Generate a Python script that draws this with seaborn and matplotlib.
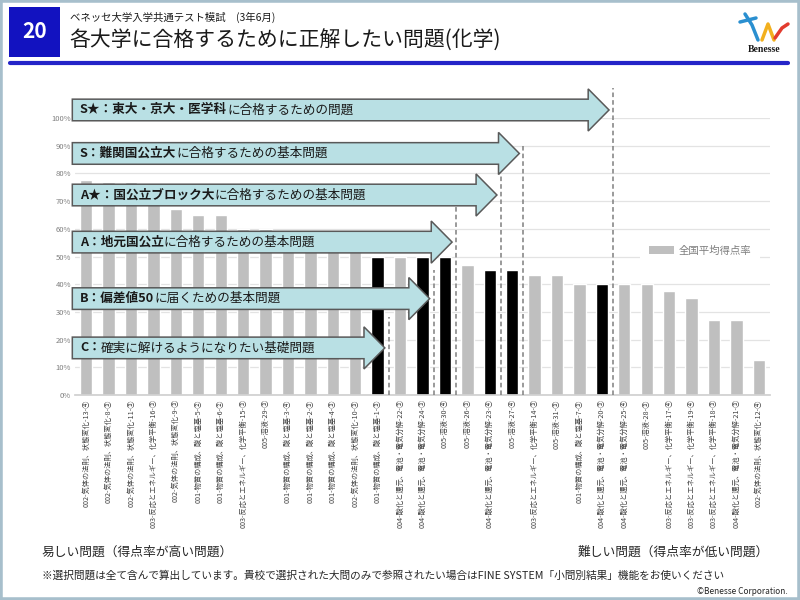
import numpy as np
import pandas as pd
import matplotlib
matplotlib.use('Agg')
import matplotlib.pyplot as plt
import seaborn as sns
from matplotlib.patches import Polygon, Rectangle, Patch
from matplotlib.lines import Line2D

# ----------------------------- Datos -----------------------------
etiquetas = ['002-気体の法則、状態変化-13-④', '002-気体の法則、状態変化-8-③', '002-気体の法則、状態変化-11-③',
             '003-反応とエネルギー、化学平衡-16-③', '002-気体の法則、状態変化-9-③', '001-物質の構成、酸と塩基-5-②',
             '001-物質の構成、酸と塩基-6-②', '003-反応とエネルギー、化学平衡-15-③', '005-溶液-29-③',
             '001-物質の構成、酸と塩基-3-④', '001-物質の構成、酸と塩基-2-③', '001-物質の構成、酸と塩基-4-③',
             '002-気体の法則、状態変化-10-③', '001-物質の構成、酸と塩基-1-③', '004-酸化と還元、電池・電気分解-22-③',
             '004-酸化と還元、電池・電気分解-24-③', '005-溶液-30-④', '005-溶液-26-③',
             '004-酸化と還元、電池・電気分解-23-④', '005-溶液-27-④', '003-反応とエネルギー、化学平衡-14-③',
             '005-溶液-31-③', '001-物質の構成、酸と塩基-7-③', '004-酸化と還元、電池・電気分解-20-③',
             '004-酸化と還元、電池・電気分解-25-④', '005-溶液-28-③', '003-反応とエネルギー、化学平衡-17-④',
             '003-反応とエネルギー、化学平衡-19-④', '003-反応とエネルギー、化学平衡-18-③',
             '004-酸化と還元、電池・電気分解-21-③', '002-気体の法則、状態変化-12-④']
tasa = [77.5, 77, 77, 70, 67, 65, 65, 60, 60, 58, 57, 55, 53, 50, 50, 50, 50, 47, 45, 45,
        43.5, 43.5, 40, 40, 40, 40, 37.5, 35, 27, 27, 12.5]

# Niveles: parte en negrita, resto del texto, último problema de cada nivel
nivel_negrita = ['S★：東大・京大・医学科', 'S：難関国公立大', 'A★：国公立ブロック大',
                 'A：地元国公立', 'B：偏差値50', 'C：']
nivel_resto = ['に合格するための問題', 'に合格するための基本問題', 'に合格するための基本問題',
               'に合格するための基本問題', 'に届くための基本問題', '確実に解けるようになりたい基礎問題']
nivel_corte = [23, 19, 18, 16, 15, 13]

df = pd.DataFrame({'problema': etiquetas, 'tasa': tasa})
colores = ['#000000' if i in nivel_corte else '#bfbfbf' for i in range(len(df))]

# ----------------------------- Gráfica -----------------------------
sns.set_theme(style='white')
plt.rcParams['font.family'] = ['Noto Sans CJK JP', 'DejaVu Sans']

fig = plt.figure(figsize=(8, 6), dpi=100)
ax = fig.add_axes([75 / 800, 205 / 600, 695 / 800, 277 / 600])

sns.barplot(data=df, x='problema', y='tasa', hue='problema', palette=colores,
            legend=False, width=0.55, saturation=1, ax=ax, zorder=2)

ax.set_xlim(-0.5, len(df) - 0.5)
ax.set_ylim(0, 100)
ax.set_yticks(range(0, 101, 10))
ax.set_yticklabels([f'{v}%' for v in range(0, 101, 10)], fontsize=5.5, color='#7f7f7f')
ax.set_xticks(range(len(df)))
ax.set_xticklabels(df['problema'], rotation=90, fontsize=5.2, color='#404040')
ax.tick_params(axis='both', length=0, pad=3)
ax.set_xlabel('')
ax.set_ylabel('')
ax.yaxis.grid(True, color='#e3e3e3', lw=0.9)
ax.set_axisbelow(True)
for s in ['top', 'right', 'left']:
    ax.spines[s].set_visible(False)
ax.spines['bottom'].set_color('#d0d0d0')

# Líneas punteadas y flechas de cada nivel
centros = [102.9, 87.2, 72.2, 55.2, 34.8, 17.0]
topes = [111, 90, 79, 68, 45, 28]
for neg, resto, corte, yc, tope in zip(nivel_negrita, nivel_resto, nivel_corte, centros, topes):
    xl = corte + 0.5
    ax.plot([xl, xl], [0, tope], ls=(0, (3, 2)), color='#7f7f7f', lw=1.1, clip_on=False, zorder=3)
    x0, x1, hb, hh, hl = -0.62, xl - 0.18, 3.9, 7.6, 0.93
    pts = [(x0, yc - hb), (x1 - hl, yc - hb), (x1 - hl, yc - hh), (x1, yc),
           (x1 - hl, yc + hh), (x1 - hl, yc + hb), (x0, yc + hb)]
    ax.add_patch(Polygon(pts, closed=True, facecolor='#b9e0e4', edgecolor='#595959',
                         lw=1.1, clip_on=False, zorder=4))
    t = ax.text(-0.28, yc, neg, fontsize=9.1, fontweight='bold', va='center', ha='left',
                color='#1a1a1a', zorder=5, clip_on=False)
    ax.annotate(resto, xy=(1, 0), xycoords=t, va='bottom', ha='left', fontsize=9.1,
                color='#1a1a1a', zorder=5, annotation_clip=False)

ax.legend(handles=[Patch(facecolor='#bfbfbf', edgecolor='none', label='全国平均得点率')],
          loc='center left', bbox_to_anchor=(0.805, 0.52), frameon=True, facecolor='white',
          edgecolor='none', framealpha=1, fontsize=7.5, labelcolor='#7f7f7f',
          handlelength=2.4, handleheight=0.8, handletextpad=0.4, borderpad=0.9)

# ----------------------------- Encabezado y pie -----------------------------
fig.patches.append(Rectangle((9 / 800, 1 - 57 / 600), 51 / 800, 50 / 600, transform=fig.transFigure,
                             facecolor='#1212c0', edgecolor='none'))
fig.text(34.5 / 800, 1 - 32 / 600, '20', color='white', fontsize=15, fontweight='bold',
         ha='center', va='center')
fig.text(70 / 800, 1 - 17 / 600, 'ベネッセ大学入学共通テスト模試　(3年6月)', fontsize=7.5,
         ha='left', va='center', color='#1a1a1a')
fig.text(69 / 800, 1 - 41 / 600, '各大学に合格するために正解したい問題(化学)', fontsize=15,
         ha='left', va='center', color='#1a1a1a')
fig.lines.append(Line2D([10 / 800, 788 / 800], [1 - 63 / 600, 1 - 63 / 600], transform=fig.transFigure,
                        color='#2424c8', lw=3))

# Logo Benesse (simplificado)
fig.text(764 / 800, 1 - 49 / 600, 'Benesse', fontsize=7, fontweight='bold', ha='center',
         va='center', family='Liberation Serif', color='#1a1a1a')
for xs, ys, c in [([745, 752, 758], [14, 25, 40], '#2a8fd0'), ([740, 756], [22, 18], '#2a8fd0'),
                  ([762, 768, 774], [40, 24, 40], '#f2b01e'), ([775, 782, 788], [38, 28, 24], '#e23b2e')]:
    fig.lines.append(Line2D([x / 800 for x in xs], [1 - y / 600 for y in ys],
                            transform=fig.transFigure, color=c, lw=2.5, solid_capstyle='round'))

fig.text(42 / 800, 1 - 552 / 600, '易しい問題（得点率が高い問題）', fontsize=9.2, ha='left', va='center')
fig.text(769 / 800, 1 - 552 / 600, '難しい問題（得点率が低い問題）', fontsize=9.2, ha='right', va='center')
fig.text(42 / 800, 1 - 575 / 600,
         '※選択問題は全て含んで算出しています。貴校で選択された大問のみで参照されたい場合はFINE SYSTEM「小問別結果」機能をお使いください',
         fontsize=7.7, ha='left', va='center')
fig.text(788 / 800, 1 - 591 / 600, '©Benesse Corporation.', fontsize=6, ha='right', va='center')

fig.patches.append(Rectangle((0, 0), 1, 1, transform=fig.transFigure, fill=False,
                             edgecolor='#a7bfcc', lw=4))

fig.savefig('out.png', dpi=100)
